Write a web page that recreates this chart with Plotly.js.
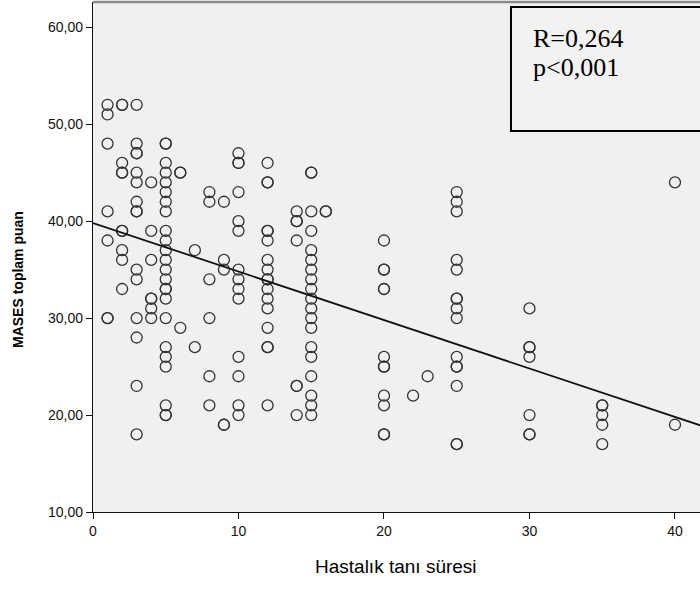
<!DOCTYPE html>
<html>
<head>
<meta charset="utf-8">
<script src="https://cdn.plot.ly/plotly-3.0.1.min.js"></script>
<style>html,body{margin:0;padding:0;background:#fff}#chart{width:700px;height:591px}</style>
</head>
<body>
<div id="chart"></div>
<script>
// Disease duration (years) and MASES total scores observed at each duration
const durations = [1, 2, 3, 4, 5, 6, 7, 8, 9, 10, 12, 14, 15, 16, 20, 22, 23, 25, 30, 35, 40];
const scoresByDuration = [
  [52, 51, 48, 41, 38, 30, 30],
  [52, 52, 46, 45, 45, 39, 39, 37, 36, 33],
  [52, 48, 47, 47, 45, 44, 42, 41, 41, 35, 34, 30, 28, 23, 18],
  [44, 39, 36, 32, 32, 31, 30],
  [48, 48, 46, 45, 44, 43, 42, 41, 39, 38, 37, 36, 35, 34, 33, 33, 32, 30, 27, 26, 25, 21, 20, 20],
  [45, 45, 29],
  [37, 27],
  [43, 42, 34, 30, 24, 21],
  [42, 36, 35, 19, 19],
  [47, 46, 46, 43, 40, 39, 35, 34, 33, 32, 26, 24, 21, 20],
  [46, 44, 44, 39, 39, 38, 36, 35, 34, 34, 33, 32, 31, 29, 27, 27, 21],
  [41, 40, 40, 38, 23, 23, 20],
  [45, 45, 41, 39, 37, 36, 35, 34, 33, 32, 31, 30, 29, 27, 26, 24, 22, 21, 20],
  [41, 41],
  [38, 35, 35, 33, 33, 26, 25, 25, 22, 21, 18, 18],
  [22],
  [24],
  [43, 42, 41, 36, 35, 32, 32, 31, 30, 26, 25, 25, 23, 17, 17],
  [31, 27, 27, 26, 20, 18, 18],
  [21, 21, 20, 19, 17],
  [44, 19]
];
// Fit line
const fitX = [0, 41.8];
const fitY = [39.8, 18.9];
const xTicks = [0, 10, 20, 30, 40];
const yTicks = [10, 20, 30, 40, 50, 60];
const statLines = ["R=0,264", "p<0,001"];
const xTitle = "Hastalık tanı süresi";
const yTitle = "MASES toplam puan";

const xs = [], ys = [];
durations.forEach((d, i) => scoresByDuration[i].forEach(s => { xs.push(d); ys.push(s); }));

const sans = "Liberation Sans, Arial, sans-serif";

const traces = [
  {
    x: xs, y: ys, type: "scatter", mode: "markers",
    marker: { symbol: "circle-open", size: 11, color: "#333", line: { width: 1.3, color: "#333" } },
    hoverinfo: "x+y", cliponaxis: false
  },
  {
    x: fitX, y: fitY, type: "scatter", mode: "lines",
    line: { color: "#111", width: 1.8 }, hoverinfo: "skip"
  }
];

const layout = {
  width: 700, height: 591,
  margin: { l: 93, r: 0, t: 2, b: 79 },
  paper_bgcolor: "#ffffff",
  plot_bgcolor: "#f0f0f0",
  showlegend: false,
  separators: ",.",
  font: { family: sans, color: "#111", size: 12 },
  xaxis: {
    range: [0, 41.72], showgrid: false, zeroline: false,
    tickvals: xTicks, ticks: "outside", ticklen: 6, tickwidth: 1, tickcolor: "#111",
    showline: true, linecolor: "#111", linewidth: 1.2,
    tickfont: { family: sans, size: 14, color: "#111" }
  },
  yaxis: {
    range: [10, 62.6], showgrid: false, zeroline: false,
    tickvals: yTicks, tickformat: ".2f", ticks: "outside", ticklen: 6, tickwidth: 1, tickcolor: "#111",
    showline: true, linecolor: "#111", linewidth: 1.2,
    tickfont: { family: sans, size: 14, color: "#111" }
  },
  shapes: [
    { type: "line", xref: "paper", yref: "paper", x0: 0, x1: 1, y0: 1, y1: 1,
      line: { color: "#8a8a8a", width: 2.5 } },
    { type: "rect", xref: "paper", yref: "paper", x0: 0.6886, x1: 1.05, y0: 0.747, y1: 0.99,
      fillcolor: "#f2f2f2", line: { color: "#000", width: 2 } }
  ],
  annotations: [
    { text: statLines[0], xref: "paper", yref: "paper", x: (531 - 93) / 607, y: (512 - 39) / 510,
      xanchor: "left", yanchor: "middle", showarrow: false,
      font: { family: "Liberation Serif, DejaVu Serif, serif", size: 26, color: "#000" } },
    { text: statLines[1], xref: "paper", yref: "paper", x: (531 - 93) / 607, y: (512 - 68) / 510,
      xanchor: "left", yanchor: "middle", showarrow: false,
      font: { family: "Liberation Serif, DejaVu Serif, serif", size: 26, color: "#000" } },
    { text: xTitle, xref: "paper", yref: "paper", x: (396 - 93) / 607, y: (512 - 566) / 510,
      xanchor: "center", yanchor: "middle", showarrow: false,
      font: { family: sans, size: 19, color: "#000" } },
    { text: "<b>" + yTitle + "</b>", xref: "paper", yref: "paper", x: (18 - 93) / 607, y: (512 - 280) / 510,
      xanchor: "center", yanchor: "middle", showarrow: false, textangle: -90,
      font: { family: sans, size: 14, color: "#000" } }
  ]
};

Plotly.newPlot("chart", traces, layout, { displayModeBar: false, staticPlot: true });
</script>
</body>
</html>
